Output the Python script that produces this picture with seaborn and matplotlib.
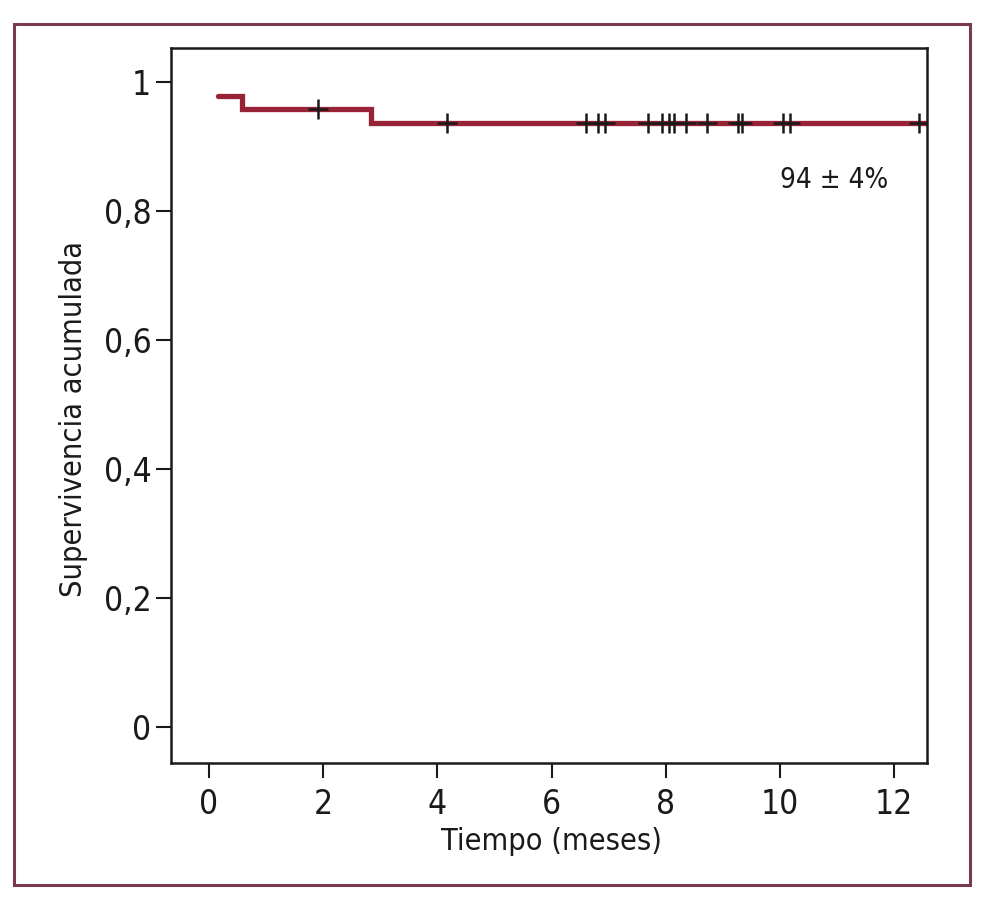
import matplotlib
matplotlib.use("Agg")
import matplotlib.pyplot as plt
import seaborn as sns
from matplotlib.patches import Rectangle

# Kaplan-Meier curve (step levels)
step_times = [0.15, 0.57, 2.84, 12.7]
step_surv = [0.978, 0.958, 0.936, 0.936]

# censored observations
censor_times = [1.90, 4.17, 6.61, 6.81, 6.94, 7.69, 7.93, 8.06, 8.15, 8.36,
                8.72, 9.26, 9.33, 10.06, 10.18, 12.44]
censor_surv = [0.958] + [0.936] * 15

x_ticks = [0, 2, 4, 6, 8, 10, 12]
y_ticks = [0, 0.2, 0.4, 0.6, 0.8, 1.0]
y_tick_labels = ["0", "0,2", "0,4", "0,6", "0,8", "1"]

sns.set_style("ticks")
plt.rcParams["font.family"] = ["DejaVu Sans"]
plt.rcParams["font.stretch"] = "condensed"

curve_color = "#982336"
frame_color = "#7a3a4c"

fig = plt.figure(figsize=(9.87, 9.0), dpi=100)
ax = fig.add_axes([0.173, 0.152, 0.766, 0.7945])

sns.lineplot(x=step_times, y=step_surv, ax=ax, color=curve_color,
             linewidth=3.8, drawstyle="steps-post", estimator=None,
             solid_joinstyle="miter")
sns.scatterplot(x=censor_times, y=censor_surv, ax=ax, marker="+", s=190,
                color="#1a1a1a", linewidth=1.8, zorder=5)

ax.set_xlim(-0.67, 12.57)
ax.set_ylim(-0.056, 1.052)
ax.set_xticks(x_ticks)
ax.set_xticklabels([str(t) for t in x_ticks])
ax.set_yticks(y_ticks)
ax.set_yticklabels(y_tick_labels)

ax.tick_params(axis="both", length=11, width=1.5, colors="#1a1a1a",
               labelsize=24, labelcolor="#1a1a1a")
ax.tick_params(axis="x", pad=7)
ax.tick_params(axis="y", pad=3)
for sp in ax.spines.values():
    sp.set_visible(True)
    sp.set_linewidth(1.8)
    sp.set_color("#1a1a1a")

ax.set_xlabel("Tiempo (meses)", fontsize=22, color="#1a1a1a")
ax.set_ylabel("Supervivencia acumulada", fontsize=22, color="#1a1a1a")
ax.xaxis.set_label_coords(0.504, -0.089)
ax.yaxis.set_label_coords(-0.11, 0.481)

ax.text(0.878, 0.816, "94 ± 4%", transform=ax.transAxes, fontsize=20,
        ha="center", va="center", color="#1a1a1a")

# outer frame
fig.patches.append(Rectangle((0.0142, 0.0167), 0.9686, 0.9566,
                             transform=fig.transFigure, fill=False,
                             edgecolor=frame_color, linewidth=2.2))

fig.savefig("out.png", dpi=100)
